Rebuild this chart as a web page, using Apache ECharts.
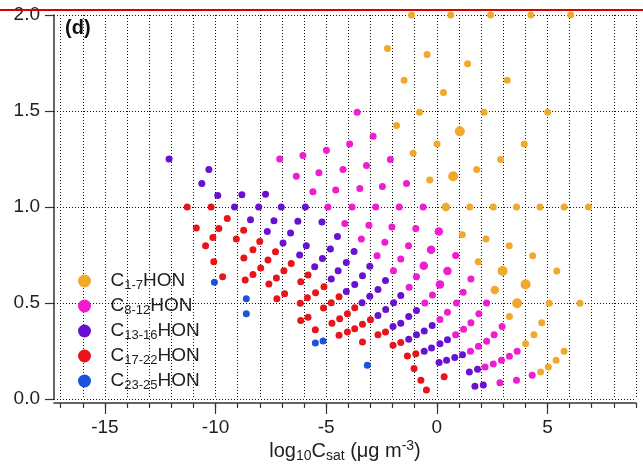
<!DOCTYPE html>
<html>
<head>
<meta charset="utf-8">
<script src="https://cdn.jsdelivr.net/npm/echarts@6.0.0/dist/echarts.min.js"></script>
<style>
  html, body { margin: 0; padding: 0; background: #fff; }
  #chart { width: 643px; height: 471px; }
</style>
</head>
<body>
<div id="chart"></div>
<script>
// Compound classes by carbon number (legend order, top to bottom)
const classNames = ['C1-7HON', 'C8-12HON', 'C13-16HON', 'C17-22HON', 'C23-25HON'];

// Each point: [log10 Csat (µg m-3), y value, relative abundance class (1 = default)]
const c1_7 = [
  [-1.14, 2.0], [0.63, 2.0], [2.43, 2.0], [4.25, 2.0], [6.05, 2.0],
  [-2.23, 1.825], [-0.44, 1.794], [1.39, 1.746],
  [-1.48, 1.66], [3.18, 1.66], [0.3, 1.596],
  [-0.78, 1.494], [2.13, 1.494], [5.01, 1.494],
  [-1.82, 1.425], [1.04, 1.394, 3],
  [0.01, 1.328], [3.95, 1.328],
  [-1.07, 1.28], [2.88, 1.247],
  [1.8, 1.195], [0.74, 1.16, 3], [-0.32, 1.14],
  [0.41, 1.0, 2], [1.49, 1.0], [2.55, 1.0], [3.6, 1.0], [4.66, 1.0], [5.75, 1.0], [6.85, 1.0],
  [1.15, 0.855], [2.22, 0.833], [3.27, 0.798], [4.33, 0.746], [5.42, 0.667],
  [1.87, 0.715], [2.97, 0.667, 3], [4.01, 0.597, 3], [2.62, 0.568, 2],
  [3.63, 0.499, 3], [5.08, 0.499], [6.47, 0.499],
  [3.28, 0.43], [4.74, 0.397], [4.39, 0.335], [4.01, 0.288],
  [5.75, 0.249], [5.39, 0.202], [5.04, 0.167], [4.69, 0.141]
];

const c8_12 = [
  [-7.1, 1.25], [-6.05, 1.268], [-4.99, 1.295], [-3.94, 1.328], [-2.88, 1.369], [-3.6, 1.494], [-2.1, 1.247],
  [-6.35, 1.16], [-5.33, 1.178], [-4.24, 1.195], [-3.18, 1.216],
  [-5.6, 1.079], [-4.57, 1.088], [-3.48, 1.097], [-2.46, 1.107], [-1.37, 1.123],
  [-4.92, 1.0], [-3.83, 1.0], [-2.76, 1.0], [-1.7, 1.0], [-0.62, 1.0],
  [-4.16, 0.914], [-3.07, 0.905], [-2.03, 0.896], [-0.95, 0.888], [0.09, 0.872, 2],
  [-3.41, 0.833], [-2.35, 0.817], [-1.28, 0.798], [-0.26, 0.777, 2], [0.85, 0.748],
  [-2.7, 0.746], [-1.63, 0.729], [-0.59, 0.694, 2], [0.48, 0.667, 2], [1.54, 0.625],
  [-1.96, 0.668], [-0.92, 0.637], [0.14, 0.597, 2], [1.19, 0.556],
  [-1.25, 0.582], [-0.2, 0.542],
  [-0.54, 0.5], [0.89, 0.5], [2.25, 0.5],
  [0.14, 0.414], [0.48, 0.452], [1.54, 0.397], [1.9, 0.444],
  [0.85, 0.335], [1.21, 0.363], [2.95, 0.378],
  [1.52, 0.249], [1.88, 0.275], [2.25, 0.301], [2.59, 0.335],
  [2.18, 0.167], [2.55, 0.182], [2.92, 0.202], [3.28, 0.223], [3.63, 0.249],
  [2.85, 0.085], [3.6, 0.098], [4.31, 0.124]
];

const c13_16 = [
  [-12.1, 1.25], [-10.3, 1.195], [-10.62, 1.123], [-9.9, 1.06], [-8.81, 1.064], [-7.74, 1.067],
  [-9.14, 1.0], [-8.05, 1.0], [-7.03, 1.0], [-5.94, 1.0],
  [-8.42, 0.933], [-7.36, 0.929], [-6.28, 0.926], [-5.19, 0.922],
  [-7.66, 0.872], [-6.61, 0.864], [-4.49, 0.846],
  [-6.95, 0.812], [-5.9, 0.798], [-4.81, 0.781], [-3.74, 0.768],
  [-6.2, 0.75], [-5.17, 0.732], [-4.09, 0.711], [-3.03, 0.691],
  [-5.52, 0.689], [-4.46, 0.668], [-3.36, 0.642], [-2.32, 0.617],
  [-4.77, 0.625], [-3.71, 0.596], [-2.66, 0.57], [-1.63, 0.539],
  [-4.09, 0.56], [-3.03, 0.535], [-1.95, 0.501],
  [-3.38, 0.501], [-2.31, 0.466], [-0.92, 0.461],
  [-2.66, 0.435], [-1.98, 0.378], [-1.63, 0.395], [-1.27, 0.43],
  [-1.27, 0.311], [-0.92, 0.335], [-0.57, 0.354], [-0.21, 0.383],
  [-0.57, 0.249], [-0.24, 0.266], [0.14, 0.288], [0.48, 0.309],
  [0.1, 0.19], [0.44, 0.202], [0.81, 0.216], [1.16, 0.231],
  [1.47, 0.141], [1.84, 0.155],
  [1.72, 0.067], [2.1, 0.073]
];

const c17_22 = [
  [-11.28, 1.0], [-10.2, 1.0], [-10.87, 0.891], [-9.85, 0.888], [-9.47, 0.94],
  [-10.12, 0.841], [-10.45, 0.798], [-10.08, 0.715], [-9.68, 0.637],
  [-8.73, 0.879], [-9.06, 0.833], [-8.0, 0.82], [-8.31, 0.777], [-7.29, 0.767],
  [-8.72, 0.734], [-7.63, 0.724], [-6.58, 0.706], [-7.96, 0.682], [-6.91, 0.668],
  [-8.31, 0.648], [-7.25, 0.63], [-5.82, 0.646], [-8.66, 0.62], [-7.59, 0.599], [-6.15, 0.611],
  [-6.88, 0.548], [-7.23, 0.522], [-5.1, 0.585], [-5.48, 0.553], [-5.85, 0.527], [-6.17, 0.499],
  [-4.77, 0.501], [-4.42, 0.532], [-5.12, 0.474], [-3.71, 0.475],
  [-6.15, 0.409], [-5.82, 0.426], [-5.49, 0.361],
  [-4.74, 0.395], [-4.39, 0.418], [-4.04, 0.444],
  [-4.42, 0.332], [-4.04, 0.349], [-3.71, 0.366], [-3.36, 0.389], [-3.0, 0.413], [-3.36, 0.297],
  [-2.66, 0.335], [-2.32, 0.349], [-1.98, 0.28], [-1.63, 0.294],
  [-1.33, 0.224], [-0.95, 0.236], [-1.03, 0.159], [-0.72, 0.098], [-0.47, 0.047], [0.33, 0.116]
];

const c23_25 = [
  [-10.05, 0.608], [-8.61, 0.522], [-8.61, 0.444], [-5.49, 0.292], [-5.14, 0.302], [-3.14, 0.176]
];

const classData = [c1_7, c8_12, c13_16, c17_22, c23_25];
const classColors = ['#F2A82C', '#EE1DCF', '#6A10D2', '#E8141A', '#1A52DC'];

// x labels and y labels
const xMajorTicks = [-15, -10, -5, 0, 5];
const yTicks = [0, 0.5, 1.0, 1.5, 2.0];

// axis ranges
const xMin = -17.3, xMax = 9;
const yMin = 0, yMax = 2;

const chart = echarts.init(document.getElementById('chart'), null, { renderer: 'canvas' });

// plot frame
const W = 643;
const padLeft = 54, padRight = 7, padTop = 15, padBottom = 72;
const unit = (W - padLeft - padRight) / (xMax - xMin);
// helper grids sharing the data grid's x scale: unit grid lines and labelled major ticks
const minorLeft = padLeft + (-17 - xMin) * unit;
const majorFirst = xMajorTicks[0], majorLast = xMajorTicks[xMajorTicks.length - 1];
const majorLeft = padLeft + (majorFirst - xMin) * unit;
const majorRight = padRight + (xMax - majorLast) * unit;

const fontFamily = '"Liberation Sans", Arial, sans-serif';
const textColor = '#1e1e1e';
const axisColor = '#333';
const dotted = { type: [1, 2], color: '#111', width: 1 };

function sizeOf(v) {
  const w = v[2] || 1;
  return 5.5 + 1.5 * w;
}

const option = {
  animation: false,
  backgroundColor: '#fff',
  textStyle: { fontFamily: fontFamily },
  title: {
    text: '(d)', left: 60, top: 13,
    textStyle: { fontSize: 20, fontWeight: 'bold', color: '#111', fontFamily: fontFamily }
  },
  grid: [
    { left: padLeft, right: padRight, top: padTop, bottom: padBottom },
    { left: minorLeft, right: padRight, top: padTop, bottom: padBottom },
    { left: majorLeft, right: majorRight, top: padTop, bottom: padBottom }
  ],
  xAxis: [
    {
      gridIndex: 0, type: 'value', min: xMin, max: xMax, offset: 4,
      axisLine: { show: true, onZero: false, lineStyle: { color: axisColor, width: 1.5 } },
      axisTick: { show: false }, axisLabel: { show: false }, splitLine: { show: false },
      name: 'log{sub|10}C{sub|sat} (μg m{sup|-3})',
      nameLocation: 'middle', nameGap: 36,
      nameTextStyle: {
        fontSize: 20, color: textColor, fontFamily: fontFamily, lineHeight: 24,
        rich: {
          sub: { fontSize: 14, verticalAlign: 'bottom', lineHeight: 16, color: textColor, fontFamily: fontFamily },
          sup: { fontSize: 14, verticalAlign: 'top', lineHeight: 14, color: textColor, fontFamily: fontFamily }
        }
      }
    },
    {
      gridIndex: 1, type: 'value', min: -17, max: 9, interval: 1, offset: 4,
      axisLine: { show: false, onZero: false },
      axisTick: { show: true, length: 5, lineStyle: { color: axisColor, width: 1.2 } },
      axisLabel: { show: false },
      splitLine: { show: true, lineStyle: dotted }
    },
    {
      gridIndex: 2, type: 'value', min: majorFirst, max: majorLast, interval: 5, offset: 4,
      axisLine: { show: false, onZero: false },
      axisTick: { show: true, length: 11, lineStyle: { color: axisColor, width: 1.2 } },
      axisLabel: {
        show: true, margin: 15, fontSize: 19, color: textColor, fontFamily: fontFamily,
        showMinLabel: true, showMaxLabel: true,
        formatter: v => String(v)
      },
      splitLine: { show: false }
    }
  ],
  yAxis: [
    {
      gridIndex: 0, type: 'value', min: yMin, max: yMax, interval: 0.5,
      axisLine: { show: true, onZero: false, lineStyle: { color: axisColor, width: 1.5 } },
      axisTick: { show: true, length: 9, lineStyle: { color: axisColor, width: 1.2 } },
      axisLabel: {
        margin: 14, fontSize: 19, color: textColor, fontFamily: fontFamily,
        showMinLabel: true, showMaxLabel: true,
        formatter: v => (yTicks.indexOf(v) >= 0 ? v.toFixed(1) : '')
      },
      splitLine: { show: true, lineStyle: dotted }
    },
    { gridIndex: 1, type: 'value', min: yMin, max: yMax, show: false, axisLine: { onZero: false } },
    { gridIndex: 2, type: 'value', min: yMin, max: yMax, show: false, axisLine: { onZero: false } }
  ],
  legend: {
    orient: 'vertical', left: 73, top: 265,
    itemWidth: 42, itemHeight: 13, itemGap: 3,
    icon: 'circle',
    data: classNames,
    formatter: name => {
      const m = name.match(/^C(.+)HON$/);
      return 'C{sub|' + m[1] + '}HON';
    },
    textStyle: {
      fontSize: 19, color: textColor, fontFamily: fontFamily, lineHeight: 22,
      rich: {
        sub: { fontSize: 13, verticalAlign: 'bottom', lineHeight: 15, color: textColor, fontFamily: fontFamily }
      }
    }
  },
  graphic: [
    { type: 'rect', left: 0, top: 9, shape: { width: W, height: 2 }, style: { fill: '#D80000' }, z: 100 }
  ],
  series: classNames.map((name, i) => ({
    name: name,
    type: 'scatter',
    xAxisIndex: 0, yAxisIndex: 0,
    symbol: 'circle',
    symbolSize: sizeOf,
    itemStyle: { color: classColors[i], opacity: 1 },
    data: classData[i],
    z: 3 + i
  }))
};

chart.setOption(option);
</script>
</body>
</html>
